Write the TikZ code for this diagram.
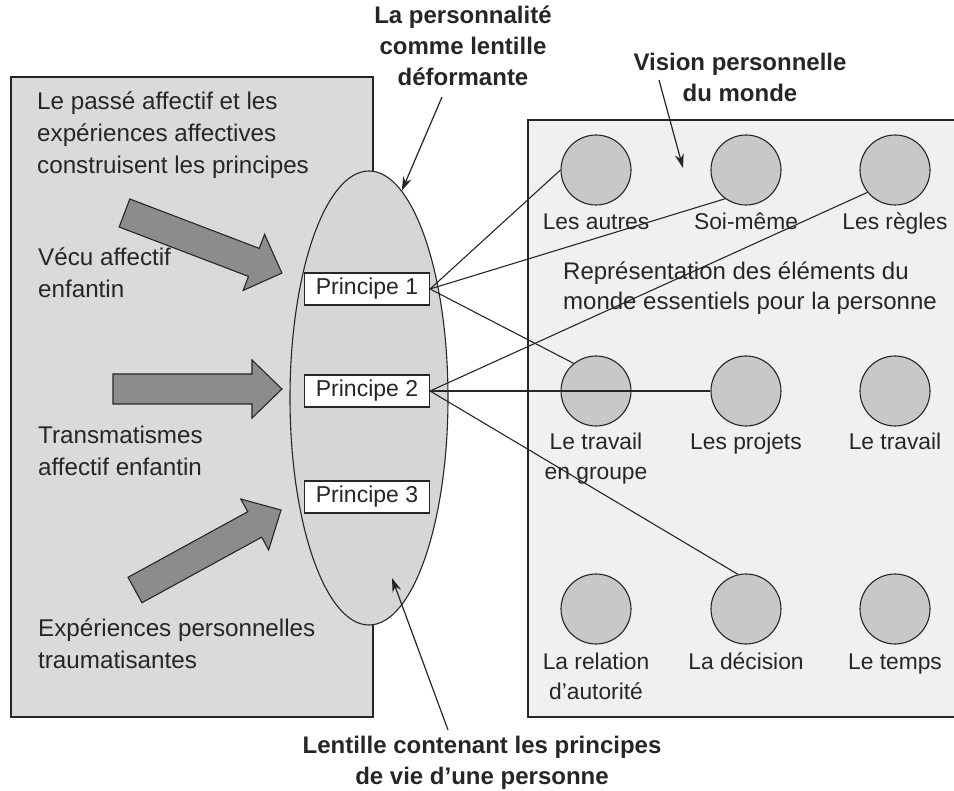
\documentclass[tikz,border=0pt]{standalone}
\usepackage{fontspec}
\setmainfont{Liberation Sans}
\usetikzlibrary{shapes.geometric,arrows.meta}
\definecolor{ink}{HTML}{262626}
\definecolor{leftfill}{HTML}{DADADA}
\definecolor{lensfill}{HTML}{D6D6D6}
\definecolor{rightfill}{HTML}{F0F0F0}
\definecolor{elemfill}{HTML}{C8C8C8}
\definecolor{bigfill}{HTML}{8C8C8C}
\begin{document}
\begin{tikzpicture}[x=1pt,y=-1pt,
  edgeline/.style={draw=ink, line width=1.3pt},
  bodytext/.style={font=\fontsize{24.2}{32}\selectfont, text=ink, inner sep=0pt, align=left, anchor=base west},
  titletext/.style={font=\bfseries\fontsize{24}{31}\selectfont, text=ink, inner sep=0pt, align=center, anchor=base},
  princ/.style={edgeline, line width=1.1pt, fill=white, minimum width=125pt, minimum height=32pt, inner sep=0pt, font=\fontsize{23}{28}\selectfont, text=ink},
  elem/.style={circle, edgeline, line width=1.1pt, fill=elemfill, minimum size=70pt, inner sep=0pt},
  lab/.style={font=\fontsize{22.8}{30}\selectfont, text=ink, inner sep=0pt, align=center, anchor=base},
  link/.style={draw=ink, line width=1.1pt},
  pointer/.style={draw=ink, line width=1.2pt, -{Stealth[length=14pt,width=9pt]}},
  bigarrow/.style={edgeline, fill=bigfill, line width=1.1pt, line join=miter}
]
\useasboundingbox (0,0) rectangle (954,791);

% boxes
\path[edgeline, fill=leftfill] (11,77) rectangle (373,717);
\path[edgeline, fill=rightfill] (528,120) rectangle (956,717);

% lens
\node[ellipse, edgeline, line width=1.1pt, fill=lensfill, minimum width=158pt, minimum height=454pt, inner sep=0pt] (lens) at (369,398) {};

% big arrows
\path[bigarrow, shift={(124.5,213)}, rotate=-20.9]
  (0,-15) -- (138.5,-15) -- (138.5,-30) -- (168.5,0) -- (138.5,30) -- (138.5,15) -- (0,15) -- cycle;
\path[bigarrow, shift={(113,389)}]
  (0,-15) -- (139,-15) -- (139,-29) -- (169,0) -- (139,29) -- (139,15) -- (0,15) -- cycle;
\path[bigarrow, shift={(135,590)}, rotate=28.7]
  (0,-14.5) -- (136.5,-14.5) -- (136.5,-29) -- (166.5,0) -- (136.5,29) -- (136.5,14.5) -- (0,14.5) -- cycle;

% principles
\node[princ] (p1) at (367,289) {Principe 1};
\node[princ] (p2) at (367,391) {Principe 2};
\node[princ] (p3) at (367,497) {Principe 3};

% left texts (anchor = baseline of the last line)
\node[bodytext] (lt1) at (37,174) {Le passé affectif et les\\expériences affectives\\construisent les principes};
\node[bodytext] (lt2) at (38,298) {Vécu affectif\\enfantin};
\node[bodytext] (lt3) at (38,476) {Transmatismes\\affectif enfantin};
\node[bodytext] (lt4) at (38,668) {Expériences personnelles\\traumatisantes};

% world elements
\node[elem] (c11) at (596,170) {};
\node[elem] (c12) at (746,170) {};
\node[elem] (c13) at (895,170) {};
\node[elem] (c21) at (596,391) {};
\node[elem] (c22) at (746,391) {};
\node[elem] (c23) at (895,391) {};
\node[elem] (c31) at (596,609) {};
\node[elem] (c32) at (746,609) {};
\node[elem] (c33) at (895,609) {};

\node[lab] (l11) at (596,230) {Les autres};
\node[lab] (l12) at (746,230) {Soi-même};
\node[lab] (l13) at (895,230) {Les règles};
\node[lab] (l21) at (596,480) {Le travail\\en groupe};
\node[lab] (l22) at (746,450) {Les projets};
\node[lab] (l23) at (895,450) {Le travail};
\node[lab] (l31) at (596,699) {La relation\\d’autorité};
\node[lab] (l32) at (746,669) {La décision};
\node[lab] (l33) at (895,669) {Le temps};

\node[bodytext, font=\fontsize{24}{30}\selectfont] (rep) at (563,310) {Représentation des éléments du\\monde essentiels pour la personne};

% titles
\node[titletext] (t1) at (463,86) {La personnalité\\comme lentille\\déformante};
\node[titletext] (t2) at (740,102) {Vision personnelle\\du monde};
\node[titletext] (t3) at (482,784) {Lentille contenant les principes\\de vie d’une personne};

% links
\draw[link] (p1.east) -- (c11.west);
\draw[link] (p1.east) -- (c12.234.6);
\draw[link] (p1.east) -- (c21.129.4);
\draw[link] (p2.east) -- (c13.219.4);
\draw[link] (p2.east) -- (c22.west);
\draw[link] (p2.east) -- (c32.103);

% pointers
\coordinate (d1) at (442,97);
\draw[pointer] (d1) -- (lens.81.6);
\coordinate (v1) at (659,80);
\coordinate (v2) at (683,168);
\draw[pointer] (v1) -- (v2);
\coordinate (b1) at (448,730);
\coordinate (b2) at (392,578);
\draw[pointer] (b1) -- (b2);
\end{tikzpicture}
\end{document}
